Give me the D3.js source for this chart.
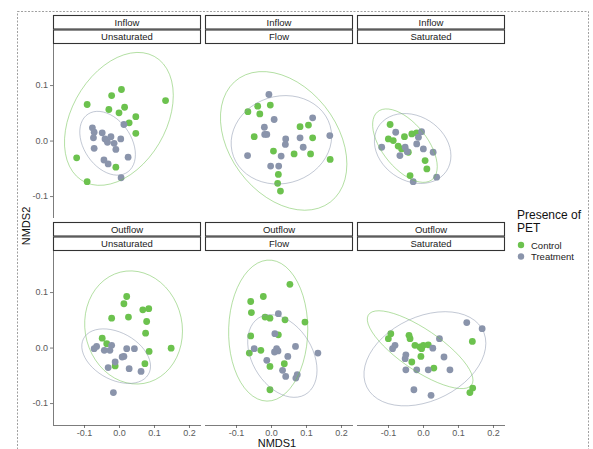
<!DOCTYPE html>
<html>
<head>
<meta charset="utf-8">
<script src="https://cdn.jsdelivr.net/npm/d3@7"></script>
<style>
  body { margin: 0; background: #fff; }
  text { font-family: "Liberation Sans", Arial, sans-serif; }
</style>
</head>
<body>
<div class="chart"></div>
<script>
// NMDS ordination, faceted by flow direction x saturation

var flowDirs = ["Inflow", "Outflow"];
var saturation = ["Unsaturated", "Flow", "Saturated"];
var groups = ["Control", "Treatment"];
var groupColors = ["#6cc24e", "#8a94ab"];

var xTicks = [-0.1, 0.0, 0.1, 0.2];
var xTickLabels = ["-0.1", "0.0", "0.1", "0.2"];
var yTicks = [-0.1, 0.0, 0.1];
var yTickLabels = ["-0.1", "0.0", "0.1"];

// [NMDS1, NMDS2]
var inUnsatControl = [[0.007,0.092],[-0.021,0.081],[-0.091,0.065],[0.016,0.060],[-0.029,0.056],[0.0,0.050],
  [0.133,0.072],[0.048,0.043],[0.029,0.032],[0.048,0.013],[-0.121,-0.031],[-0.009,-0.048],[-0.091,-0.074]];
var inUnsatTreatment = [[-0.076,0.023],[-0.071,0.015],[-0.048,0.014],[-0.073,0.005],[-0.040,0.003],[-0.033,-0.003],
  [-0.014,-0.005],[0.005,0.003],[-0.009,-0.016],[-0.071,-0.014],[0.026,-0.030],[-0.043,-0.035],[-0.031,-0.042],
  [0.006,-0.067],[0.014,0.029],[-0.023,0.007]];

var inFlowControl = [[-0.038,0.062],[-0.002,0.064],[-0.066,0.052],[-0.032,0.048],[0.083,0.025],[0.107,0.028],
  [-0.048,0.007],[0.119,0.005],[0.007,-0.019],[0.066,-0.024],[0.113,-0.024],[0.169,-0.034],[0.021,-0.061],
  [0.019,-0.077],[0.027,-0.091]];
var inFlowTreatment = [[-0.006,0.083],[0.009,0.038],[0.119,0.041],[-0.019,0.024],[-0.012,0.011],[-0.018,0.011],
  [0.042,0.003],[0.041,-0.007],[0.083,0.005],[0.092,-0.012],[0.168,0.009],[-0.067,-0.027],[0.029,-0.028],
  [-0.001,-0.046],[0.022,-0.046]];

var inSatControl = [[-0.094,0.029],[-0.099,0.003],[-0.085,0.0],[-0.053,0.007],[-0.032,0.012],[-0.071,-0.010],
  [-0.061,-0.015],[-0.042,-0.021],[-0.018,0.014],[0.006,-0.036],[0.011,-0.051],[-0.037,-0.063]];
var inSatTreatment = [[-0.078,0.015],[-0.004,0.016],[-0.013,0.006],[-0.118,-0.012],[-0.051,-0.012],[-0.066,-0.027],
  [-0.018,-0.006],[0.001,-0.015],[0.029,-0.021],[0.039,-0.066],[-0.028,-0.074],[-0.045,-0.020]];

var outUnsatControl = [[0.022,0.092],[0.014,0.079],[0.068,0.068],[0.085,0.070],[-0.021,0.053],[0.027,0.055],
  [0.079,0.047],[0.076,0.026],[-0.048,0.017],[-0.035,0.007],[0.149,-0.001],[0.086,-0.007],[0.074,-0.029],
  [-0.011,-0.033]];
var outUnsatTreatment = [[-0.064,0.002],[-0.071,-0.002],[-0.042,-0.005],[-0.021,0.004],[-0.026,-0.005],
  [0.022,-0.002],[0.044,-0.002],[0.014,-0.016],[0.009,-0.017],[-0.011,-0.026],[-0.031,-0.036],[0.029,-0.038],
  [0.063,-0.043],[-0.016,-0.081]];

var outFlowControl = [[0.054,0.114],[-0.058,0.083],[-0.022,0.092],[-0.056,0.063],[-0.017,0.055],[-0.003,0.053],
  [0.040,0.050],[0.097,0.046],[-0.058,0.021],[0.021,0.023],[-0.062,-0.010],[-0.029,-0.005],[0.038,-0.029],
  [-0.003,-0.034],[-0.003,-0.076]];
var outFlowTreatment = [[0.021,0.061],[0.011,0.025],[-0.048,-0.002],[0.016,-0.002],[0.020,-0.006],[0.010,-0.008],
  [0.070,0.002],[0.134,-0.010],[0.048,-0.016],[-0.012,-0.023],[0.033,-0.041],[0.042,-0.052],[0.075,-0.049],
  [0.071,-0.055]];

var outSatControl = [[-0.092,0.025],[-0.099,0.016],[-0.040,0.022],[-0.037,0.016],[-0.023,0.004],[-0.009,0.001],
  [0.001,0.004],[0.015,0.005],[-0.004,-0.002],[-0.006,-0.016],[-0.032,-0.026],[0.031,-0.037],[0.141,0.011],
  [0.142,-0.073],[0.134,-0.081]];
var outSatTreatment = [[0.125,0.045],[0.169,0.034],[0.047,0.016],[-0.080,0.004],[-0.087,-0.002],[0.028,-0.001],
  [-0.049,-0.013],[-0.051,-0.020],[0.060,-0.017],[-0.049,-0.040],[-0.018,-0.040],[0.015,-0.040],[0.077,-0.040],
  [-0.026,-0.076],[0.023,-0.086]];

var panels = [
  {row: 0, col: 0, sets: [inUnsatControl, inUnsatTreatment]},
  {row: 0, col: 1, sets: [inFlowControl, inFlowTreatment]},
  {row: 0, col: 2, sets: [inSatControl, inSatTreatment]},
  {row: 1, col: 0, sets: [outUnsatControl, outUnsatTreatment]},
  {row: 1, col: 1, sets: [outFlowControl, outFlowTreatment]},
  {row: 1, col: 2, sets: [outSatControl, outSatTreatment]}
];

var svgWidth = 593, svgHeight = 449;
var panelLeft = [53, 205, 357];
var panelW = 148, panelH = 174;
var stripH = 14.5;
var rowTop = [15, 222];   // top of the strips

var svg = d3.select(".chart").append("svg")
  .attr("width", svgWidth).attr("height", svgHeight);

// dashed frame around the figure
svg.append("rect")
  .attr("x", 17.5).attr("y", 11.5).attr("width", 571).attr("height", 460)
  .attr("fill", "none").attr("stroke", "#888").attr("stroke-width", 0.8)
  .attr("stroke-dasharray", "2,1.5");

var x = d3.scaleLinear().domain([-0.1886, 0.2343]).range([0, panelW]);
var y = d3.scaleLinear().domain([-0.1395, 0.1740]).range([panelH, 0]);

// robust t covariance (like MASS::cov.trob) and a 95% ellipse as in stat_ellipse
function covTrob(pts) {
  var n = pts.length, nu = 5, p = 2;
  var w = pts.map(() => 1);
  var loc = [d3.mean(pts, d => d[0]), d3.mean(pts, d => d[1])];
  var X, a, b, c;
  for (var it = 0; it < 100; it++) {
    X = pts.map(d => [d[0] - loc[0], d[1] - loc[1]]);
    var sw = d3.sum(w);
    a = 0; b = 0; c = 0;
    X.forEach((v, i) => { a += w[i]*v[0]*v[0]; b += w[i]*v[0]*v[1]; c += w[i]*v[1]*v[1]; });
    a /= sw; b /= sw; c /= sw;
    var det = a*c - b*b;
    var w0 = w;
    w = X.map(v => (nu + p) / (nu + (c*v[0]*v[0] - 2*b*v[0]*v[1] + a*v[1]*v[1]) / det));
    var sw2 = d3.sum(w);
    loc = [d3.sum(pts, (d, i) => w[i]*d[0]) / sw2, d3.sum(pts, (d, i) => w[i]*d[1]) / sw2];
    if (d3.max(w, (v, i) => Math.abs(v - w0[i])) < 1e-4) break;
  }
  a = 0; b = 0; c = 0;
  X.forEach((v, i) => { a += w[i]*v[0]*v[0]; b += w[i]*v[0]*v[1]; c += w[i]*v[1]*v[1]; });
  return {center: loc, cov: [a/n, b/n, c/n]};
}

function ellipse(pts) {
  var n = pts.length, dfd = n - 1;
  var qf = dfd / 2 * (Math.pow(0.05, -2 / dfd) - 1);
  var radius = Math.sqrt(2 * qf);
  var est = covTrob(pts);
  var a = est.cov[0], b = est.cov[1], c = est.cov[2];
  var r11 = Math.sqrt(a), r12 = b / r11, r22 = Math.sqrt(c - r12*r12);
  return d3.range(52).map(i => {
    var t = i / 51 * 2 * Math.PI;
    var ct = Math.cos(t), st = Math.sin(t);
    return [est.center[0] + radius*ct*r11, est.center[1] + radius*(ct*r12 + st*r22)];
  });
}

var line = d3.line().x(d => x(d[0])).y(d => y(d[1]));

panels.forEach(function(pn, k) {
  var px = panelLeft[pn.col];
  var top = rowTop[pn.row];
  var plotTop = top + 2*stripH;

  // strips
  [flowDirs[pn.row], saturation[pn.col]].forEach(function(lab, j) {
    var sy = top + j*stripH;
    svg.append("rect")
      .attr("x", px + 0.5).attr("y", sy + 0.5)
      .attr("width", panelW - 1).attr("height", stripH - 1)
      .attr("fill", "#fff").attr("stroke", "#333").attr("stroke-width", 1.1);
    svg.append("text")
      .attr("x", px + panelW/2).attr("y", sy + stripH/2 + 3.3)
      .attr("text-anchor", "middle").attr("font-size", "9.5px").attr("fill", "#1a1a1a")
      .text(lab);
  });

  var g = svg.append("g").attr("transform", `translate(${px}, ${plotTop})`);

  svg.append("clipPath").attr("id", "clip" + k)
    .append("rect").attr("x", px).attr("y", plotTop).attr("width", panelW).attr("height", panelH);

  var marks = svg.append("g").attr("clip-path", `url(#clip${k})`)
    .append("g").attr("transform", `translate(${px}, ${plotTop})`);

  pn.sets.forEach(function(pts, gi) {
    marks.selectAll(null)
      .data(pts)
      .enter()
      .append("circle")
      .attr("cx", d => x(d[0]))
      .attr("cy", d => y(d[1]))
      .attr("r", 3.4)
      .attr("fill", groupColors[gi]);
  });
  pn.sets.forEach(function(pts, gi) {
    marks.append("path")
      .attr("d", line(ellipse(pts)))
      .attr("fill", "none")
      .attr("stroke", groupColors[gi])
      .attr("stroke-opacity", 0.8)
      .attr("stroke-width", 0.65);
  });

  // axes only on the outer sides
  if (pn.col === 0) {
    var leftAxis = d3.axisLeft(y).tickValues(yTicks)
      .tickFormat((d, i) => yTickLabels[i]).tickSize(3).tickPadding(2);
    var ga = g.append("g").call(leftAxis);
    ga.select(".domain").attr("stroke", "#444").attr("stroke-width", 0.7).attr("d", `M0.5,0V${panelH}`);
    ga.selectAll(".tick line").attr("stroke", "#444").attr("stroke-width", 0.7);
    ga.selectAll(".tick text").attr("font-size", "9px").attr("fill", "#5a5a5a")
      .attr("font-family", "Liberation Sans, Arial, sans-serif");
  }
  if (pn.row === 1) {
    var bottomAxis = d3.axisBottom(x).tickValues(xTicks)
      .tickFormat((d, i) => xTickLabels[i]).tickSize(3).tickPadding(2);
    var gb = g.append("g").attr("transform", `translate(0, ${panelH})`).call(bottomAxis);
    gb.select(".domain").attr("stroke", "#444").attr("stroke-width", 0.7).attr("d", `M0,0.5H${panelW}`);
    gb.selectAll(".tick line").attr("stroke", "#444").attr("stroke-width", 0.7);
    gb.selectAll(".tick text").attr("font-size", "9px").attr("fill", "#5a5a5a")
      .attr("font-family", "Liberation Sans, Arial, sans-serif");
  }
});

// axis titles
svg.append("text")
  .attr("x", 277).attr("y", 447)
  .attr("text-anchor", "middle").attr("font-size", "11px").attr("fill", "#111")
  .text("NMDS1");

svg.append("text")
  .attr("transform", "translate(30, 226) rotate(-90)")
  .attr("text-anchor", "middle").attr("font-size", "11px").attr("fill", "#111")
  .text("NMDS2");

// legend
var legend = svg.append("g").attr("transform", "translate(517, 0)");
legend.append("text").attr("x", 0).attr("y", 219).attr("font-size", "12px").attr("fill", "#111").text("Presence of");
legend.append("text").attr("x", 0).attr("y", 232).attr("font-size", "12px").attr("fill", "#111").text("PET");
groups.forEach(function(gname, i) {
  legend.append("circle").attr("cx", 4).attr("cy", 245 + i*11.5).attr("r", 3.2).attr("fill", groupColors[i]);
  legend.append("text").attr("x", 14).attr("y", 248.5 + i*11.5)
    .attr("font-size", "9.5px").attr("fill", "#222").text(gname);
});
</script>
</body>
</html>
